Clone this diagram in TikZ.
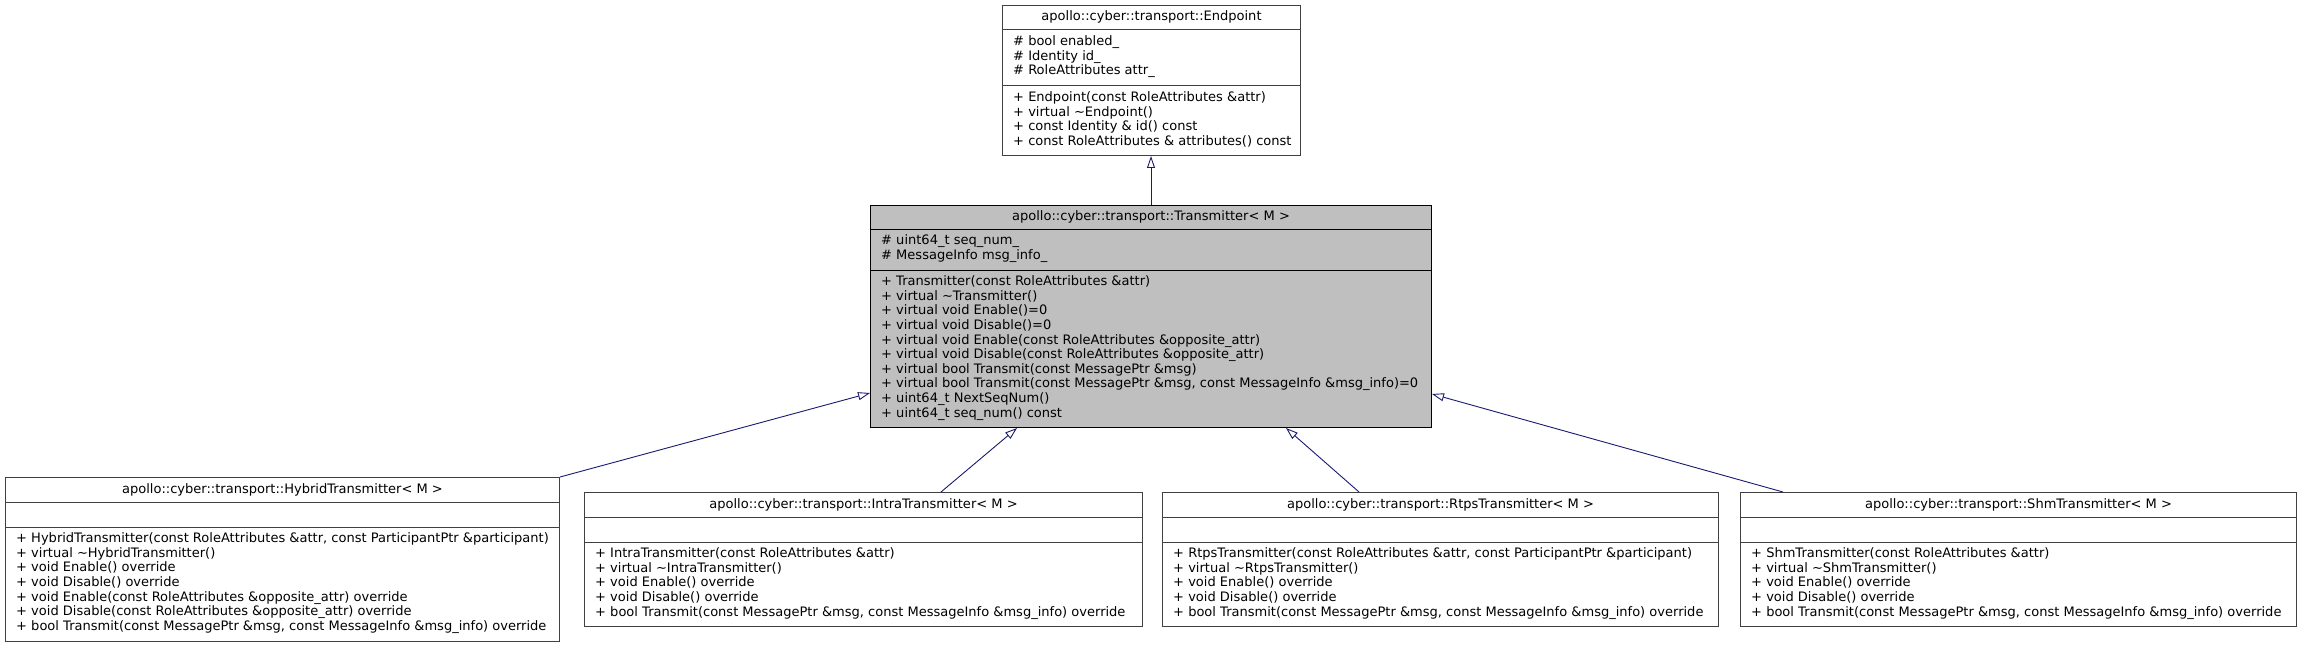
\documentclass[tikz,border=0pt]{standalone}
\usepackage{fontspec}
\setmainfont{DejaVu Sans}
\usetikzlibrary{arrows.meta,calc}
\definecolor{edgeblue}{HTML}{191970}
\definecolor{boxline}{HTML}{404040}
\definecolor{curfill}{HTML}{BFBFBF}
\newlength\calibw
\settowidth{\calibw}{\fontsize{10}{12}\selectfont + virtual bool Transmit(const MessagePtr \&msg, const MessageInfo \&msg\_info)=0}
\pgfmathsetmacro\memfs{10*537/\calibw}
\newcommand\umlfont{\fontsize{\memfs}{14.6}\selectfont}
\begin{document}
\begin{tikzpicture}[x=1pt,y=-1pt,
  cls/.style={draw=boxline, line width=1pt, fill=white, inner sep=0pt, anchor=north west},
  cur/.style={draw=black, line width=1pt, fill=curfill, inner sep=0pt, anchor=north west},
  sepline/.style={draw=boxline, line width=1pt},
  cursep/.style={draw=black, line width=1pt},
  txt/.style={inner sep=0pt, align=left, anchor=north west, font=\umlfont},
  ttl/.style={inner sep=0pt, anchor=base, font=\umlfont},
  inh/.style={draw=edgeblue, line width=0.9pt, -{Triangle[open, length=12pt, width=8pt, fill=white]}},
]
\useasboundingbox (0,0) rectangle (2301,647);

% ---------- Endpoint ----------
\node[cls, minimum width=298, minimum height=150] (ep) at (1002,5) {};
\draw[sepline] ($(ep.north west)+(0,25)$) -- ($(ep.north east)+(0,25)$);
\draw[sepline] ($(ep.north west)+(0,81)$) -- ($(ep.north east)+(0,81)$);
\node[ttl] (ept) at ($(ep.north)+(0,16)$) {apollo::cyber::transport::Endpoint};
\node[txt] (epa) at ($(ep.north west)+(11,30.3)$) {\strut\# bool enabled\_\\\strut\# Identity id\_\\\strut\# RoleAttributes attr\_};
\node[txt] (epm) at ($(ep.north west)+(11,86.3)$) {\strut+ Endpoint(const RoleAttributes \&attr)\\\strut+ virtual \textasciitilde Endpoint()\\\strut+ const Identity \& id() const\\\strut+ const RoleAttributes \& attributes() const};

% ---------- Transmitter ----------
\node[cur, minimum width=561, minimum height=222] (tr) at (870,205) {};
\draw[cursep] ($(tr.north west)+(0,24)$) -- ($(tr.north east)+(0,24)$);
\draw[cursep] ($(tr.north west)+(0,65)$) -- ($(tr.north east)+(0,65)$);
\node[ttl] (trt) at ($(tr.north)+(0,16)$) {apollo::cyber::transport::Transmitter< M >};
\node[txt] (tra) at ($(tr.north west)+(11,29.3)$) {\strut\# uint64\_t seq\_num\_\\\strut\# MessageInfo msg\_info\_};
\node[txt] (trm) at ($(tr.north west)+(11,70.3)$) {\strut+ Transmitter(const RoleAttributes \&attr)\\
\strut+ virtual \textasciitilde Transmitter()\\
\strut+ virtual void Enable()=0\\
\strut+ virtual void Disable()=0\\
\strut+ virtual void Enable(const RoleAttributes \&opposite\_attr)\\
\strut+ virtual void Disable(const RoleAttributes \&opposite\_attr)\\
\strut+ virtual bool Transmit(const MessagePtr \&msg)\\
\strut+ virtual bool Transmit(const MessagePtr \&msg, const MessageInfo \&msg\_info)=0\\
\strut+ uint64\_t NextSeqNum()\\
\strut+ uint64\_t seq\_num() const};

% ---------- HybridTransmitter ----------
\node[cls, minimum width=554, minimum height=164] (hy) at (5,477) {};
\draw[sepline] ($(hy.north west)+(0,25)$) -- ($(hy.north east)+(0,25)$);
\draw[sepline] ($(hy.north west)+(0,50)$) -- ($(hy.north east)+(0,50)$);
\node[ttl] (hyt) at ($(hy.north)+(0,16)$) {apollo::cyber::transport::HybridTransmitter< M >};
\node[txt] (hym) at ($(hy.north west)+(11,55.3)$) {\strut+ HybridTransmitter(const RoleAttributes \&attr, const ParticipantPtr \&participant)\\
\strut+ virtual \textasciitilde HybridTransmitter()\\
\strut+ void Enable() override\\
\strut+ void Disable() override\\
\strut+ void Enable(const RoleAttributes \&opposite\_attr) override\\
\strut+ void Disable(const RoleAttributes \&opposite\_attr) override\\
\strut+ bool Transmit(const MessagePtr \&msg, const MessageInfo \&msg\_info) override};

% ---------- IntraTransmitter ----------
\node[cls, minimum width=558, minimum height=134] (in) at (584,492) {};
\draw[sepline] ($(in.north west)+(0,25)$) -- ($(in.north east)+(0,25)$);
\draw[sepline] ($(in.north west)+(0,50)$) -- ($(in.north east)+(0,50)$);
\node[ttl] (int) at ($(in.north)+(0,16)$) {apollo::cyber::transport::IntraTransmitter< M >};
\node[txt] (inm) at ($(in.north west)+(11,55.3)$) {\strut+ IntraTransmitter(const RoleAttributes \&attr)\\
\strut+ virtual \textasciitilde IntraTransmitter()\\
\strut+ void Enable() override\\
\strut+ void Disable() override\\
\strut+ bool Transmit(const MessagePtr \&msg, const MessageInfo \&msg\_info) override};

% ---------- RtpsTransmitter ----------
\node[cls, minimum width=556, minimum height=134] (rt) at (1162,492) {};
\draw[sepline] ($(rt.north west)+(0,25)$) -- ($(rt.north east)+(0,25)$);
\draw[sepline] ($(rt.north west)+(0,50)$) -- ($(rt.north east)+(0,50)$);
\node[ttl] (rtt) at ($(rt.north)+(0,16)$) {apollo::cyber::transport::RtpsTransmitter< M >};
\node[txt] (rtm) at ($(rt.north west)+(11,55.3)$) {\strut+ RtpsTransmitter(const RoleAttributes \&attr, const ParticipantPtr \&participant)\\
\strut+ virtual \textasciitilde RtpsTransmitter()\\
\strut+ void Enable() override\\
\strut+ void Disable() override\\
\strut+ bool Transmit(const MessagePtr \&msg, const MessageInfo \&msg\_info) override};

% ---------- ShmTransmitter ----------
\node[cls, minimum width=556, minimum height=134] (sh) at (1740,492) {};
\draw[sepline] ($(sh.north west)+(0,25)$) -- ($(sh.north east)+(0,25)$);
\draw[sepline] ($(sh.north west)+(0,50)$) -- ($(sh.north east)+(0,50)$);
\node[ttl] (sht) at ($(sh.north)+(0,16)$) {apollo::cyber::transport::ShmTransmitter< M >};
\node[txt] (shm) at ($(sh.north west)+(11,55.3)$) {\strut+ ShmTransmitter(const RoleAttributes \&attr)\\
\strut+ virtual \textasciitilde ShmTransmitter()\\
\strut+ void Enable() override\\
\strut+ void Disable() override\\
\strut+ bool Transmit(const MessagePtr \&msg, const MessageInfo \&msg\_info) override};

% ---------- inheritance edges ----------
\draw[inh] (tr.north) -- (tr.north |- ep.south);
\draw[inh] (hy.north east) -- ($(tr.north west)+(0,188)$);
\draw[inh] ($(in.north west)+(357,0)$) -- ($(tr.south west)+(147,0)$);
\draw[inh] ($(rt.north west)+(197,0)$) -- ($(tr.south west)+(416,0)$);
\draw[inh] ($(sh.north west)+(43,0)$) -- ($(tr.north east)+(0,189)$);
\end{tikzpicture}
\end{document}
